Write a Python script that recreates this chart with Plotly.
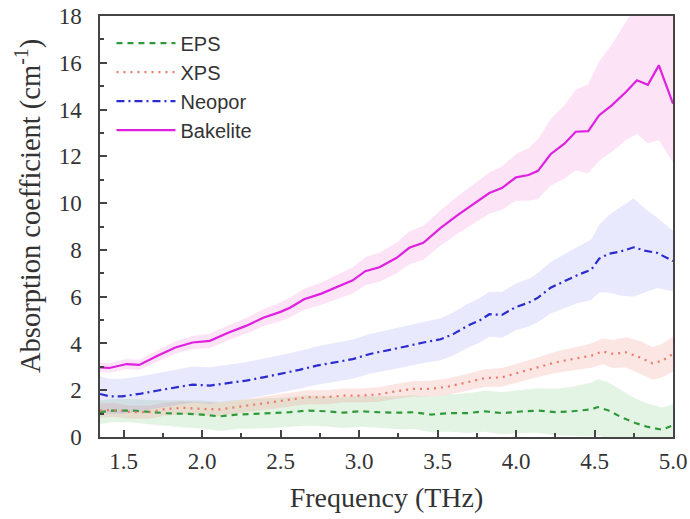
import plotly.graph_objects as go

# ---------------- data ----------------
x_eps = [1.35,1.43,1.55,1.66,1.77,1.89,2.00,2.11,2.22,2.34,2.45,2.56,2.67,2.79,2.90,3.01,3.12,3.24,3.35,3.46,3.57,3.69,3.80,3.91,4.03,4.14,4.25,4.36,4.48,4.52,4.59,4.67,4.76,4.84,4.93,5.00]
y_eps = [1.06,1.13,1.13,1.06,1.02,0.99,0.96,0.88,0.96,0.99,1.02,1.06,1.13,1.10,1.04,1.10,1.06,1.04,1.06,0.96,1.02,1.02,1.10,1.02,1.09,1.13,1.06,1.10,1.18,1.28,1.13,0.85,0.60,0.43,0.31,0.50]
e_eps = [0.50,0.50,0.50,0.52,0.55,0.58,0.60,0.62,0.62,0.63,0.63,0.64,0.65,0.65,0.65,0.66,0.68,0.70,0.72,0.76,0.80,0.85,0.88,0.90,0.92,0.95,1.00,1.05,1.15,1.20,1.20,1.15,1.05,1.00,0.95,0.90]

x_xps = [1.35,1.43,1.55,1.66,1.77,1.89,2.00,2.11,2.22,2.34,2.45,2.56,2.67,2.79,2.90,3.01,3.12,3.24,3.35,3.46,3.57,3.69,3.80,3.91,4.03,4.14,4.25,4.36,4.48,4.55,4.62,4.70,4.79,4.87,4.93,5.00]
y_xps = [1.13,1.16,1.06,1.06,1.20,1.25,1.20,1.18,1.28,1.39,1.49,1.59,1.70,1.70,1.77,1.77,1.82,1.96,2.06,2.06,2.16,2.34,2.52,2.55,2.77,2.98,3.19,3.33,3.48,3.66,3.55,3.62,3.40,3.15,3.26,3.55]
e_xps = [0.30,0.30,0.28,0.28,0.28,0.28,0.28,0.28,0.28,0.28,0.28,0.29,0.30,0.30,0.30,0.30,0.31,0.32,0.33,0.34,0.35,0.36,0.38,0.40,0.40,0.42,0.45,0.48,0.52,0.55,0.60,0.65,0.70,0.70,0.72,0.75]

x_neo = [1.35,1.41,1.49,1.60,1.72,1.83,1.94,2.05,2.17,2.28,2.39,2.50,2.62,2.73,2.84,2.96,3.07,3.18,3.29,3.41,3.52,3.60,3.69,3.77,3.83,3.91,4.00,4.08,4.14,4.22,4.31,4.39,4.48,4.53,4.59,4.67,4.75,4.82,4.90,5.00]
y_neo = [1.84,1.74,1.74,1.84,1.99,2.13,2.24,2.20,2.30,2.41,2.55,2.70,2.87,3.05,3.19,3.33,3.55,3.69,3.86,4.04,4.18,4.40,4.75,4.99,5.25,5.22,5.56,5.74,5.96,6.38,6.67,6.92,7.16,7.63,7.83,7.94,8.11,7.97,7.87,7.52]
e_neo = [0.75,0.75,0.75,0.75,0.75,0.76,0.77,0.78,0.78,0.79,0.80,0.80,0.81,0.82,0.83,0.84,0.85,0.86,0.87,0.88,0.90,0.92,0.94,0.95,0.96,0.98,1.00,1.02,1.05,1.10,1.15,1.20,1.30,1.45,1.65,1.90,2.10,1.80,1.50,1.30]

x_bak = [1.35,1.41,1.52,1.60,1.72,1.83,1.94,2.05,2.17,2.28,2.39,2.50,2.56,2.65,2.76,2.87,2.96,3.04,3.13,3.24,3.32,3.41,3.52,3.63,3.74,3.83,3.91,4.00,4.08,4.14,4.22,4.31,4.38,4.46,4.53,4.61,4.70,4.77,4.84,4.91,5.00]
y_bak = [2.98,2.95,3.12,3.08,3.48,3.83,4.04,4.11,4.47,4.75,5.10,5.35,5.53,5.89,6.13,6.45,6.70,7.09,7.26,7.66,8.09,8.30,8.94,9.50,10.00,10.43,10.64,11.10,11.20,11.38,12.09,12.55,13.05,13.08,13.76,14.18,14.75,15.25,15.06,15.89,14.25]
eu_bak = [0.20,0.20,0.22,0.22,0.24,0.26,0.28,0.30,0.32,0.34,0.36,0.40,0.42,0.45,0.48,0.52,0.56,0.60,0.62,0.66,0.70,0.72,0.76,0.80,0.84,0.88,0.92,1.00,1.15,1.35,1.50,1.65,1.80,2.00,2.30,2.60,3.00,3.20,3.40,3.50,3.80]
ed_bak = [0.20,0.20,0.22,0.22,0.24,0.26,0.28,0.30,0.32,0.34,0.36,0.40,0.42,0.45,0.48,0.52,0.56,0.60,0.62,0.66,0.70,0.72,0.76,0.80,0.84,0.88,0.92,1.00,1.10,1.20,1.35,1.50,1.65,1.80,1.95,2.00,2.05,2.30,2.50,3.20,2.50]

series = [
    ("EPS", x_eps, y_eps, e_eps, e_eps, "#2f9a3a", "6px,5px", "rgba(120,200,120,0.20)"),
    ("XPS", x_xps, y_xps, e_xps, e_xps, "#ec7a6a", "2px,5px", "rgba(240,130,120,0.20)"),
    ("Neopor", x_neo, y_neo, e_neo, e_neo, "#2b2bd0", "8px,4px,2px,4px", "rgba(110,120,235,0.16)"),
    ("Bakelite", x_bak, y_bak, eu_bak, ed_bak, "#e020e0", "solid", "rgba(240,120,210,0.20)"),
]

fig = go.Figure()
for name, xs, ys, eu, ed, col, dash, band in series:
    upper = [y + e for y, e in zip(ys, eu)]
    lower = [y - e for y, e in zip(ys, ed)]
    fig.add_trace(go.Scatter(x=xs + xs[::-1], y=upper + lower[::-1], fill="toself",
                             fillcolor=band, line=dict(width=0), mode="lines",
                             showlegend=False, hoverinfo="skip"))
for name, xs, ys, eu, ed, col, dash, band in series:
    fig.add_trace(go.Scatter(x=xs, y=ys, mode="lines", name=name,
                             line=dict(color=col, dash=dash, width=2.2)))

serif = "Liberation Serif, Times New Roman, serif"
axis_common = dict(showline=True, linecolor="#444", linewidth=1.5, mirror=True,
                   ticks="inside", ticklen=7, tickwidth=1.5, tickcolor="#444",
                   showgrid=False, zeroline=False, automargin=False,
                   tickfont=dict(family=serif, size=23, color="#333"))

fig.update_layout(
    width=690, height=519,
    margin=dict(l=100, r=17, t=16, b=82),
    paper_bgcolor="white", plot_bgcolor="white",
    xaxis=dict(range=[1.35, 5.0], dtick=0.5, tick0=0, tickformat=".1f",
               minor=dict(ticks="inside", ticklen=4, dtick=0.25, tick0=0, tickcolor="#444"),
               ticklabelstandoff=3,
               title=dict(text="Frequency (THz)", font=dict(family=serif, size=28, color="#333"), standoff=14),
               **axis_common),
    yaxis=dict(range=[0, 18], dtick=2,
               minor=dict(ticks="inside", ticklen=4, dtick=1, tickcolor="#444"),
               ticklabelstandoff=12,
               **axis_common),
    legend=dict(x=0.02, y=0.982, xanchor="left", yanchor="top",
                bgcolor="rgba(0,0,0,0)", font=dict(family="Liberation Sans, Arial, sans-serif", size=20, color="#333"),
                itemwidth=59, tracegroupgap=0),
    showlegend=True,
    annotations=[dict(text="Absorption coefficient (cm<sup>-1</sup>)", textangle=-90,
                      xref="paper", yref="paper", x=(29 - 100) / 573, y=(437 - 206) / 421,
                      xanchor="center", yanchor="middle", showarrow=False,
                      font=dict(family=serif, size=28.5, color="#333"))],
)

fig.write_html("out.html")
